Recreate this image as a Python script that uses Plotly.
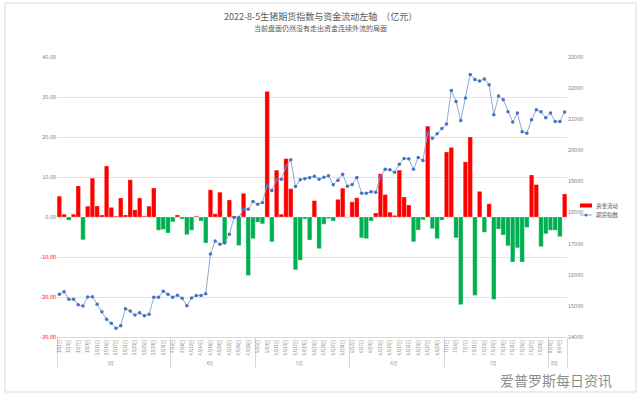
import plotly.graph_objects as go
from plotly.subplots import make_subplots

# ---------------- data ----------------
month_days = {
    "3月": [1, 2, 3, 4, 7, 8, 9, 10, 11, 14, 15, 16, 17, 18, 21, 22, 23, 24, 25, 28, 29, 30, 31],
    "4月": [1, 6, 7, 8, 11, 12, 13, 14, 15, 18, 19, 20, 21, 22, 25, 26, 27, 28, 29],
    "5月": [5, 6, 9, 10, 11, 12, 13, 16, 17, 18, 19, 20, 23, 24, 25, 26, 27, 30, 31],
    "6月": [1, 2, 6, 7, 8, 9, 10, 13, 14, 15, 16, 17, 20, 21, 22, 23, 24, 27, 28, 29, 30],
    "7月": [1, 4, 5, 6, 7, 8, 11, 12, 13, 14, 15, 18, 19, 20, 21, 22, 25, 26, 27, 28, 29],
    "8月": [1, 2, 3, 4, 5],
}

fund_flow = [
    # March
    5.2, 0.7, -0.8, 0.7, 7.75, -5.7, 2.7, 9.7, 2.75, 0.5, 12.75, 2.4, 0.2, 4.75, 0.5, 9.3, 1.8, 4.75, 0.2, 2.7, 7.25, -3.3, -3.1,
    # April
    -4.0, -1.2, 0.5, -0.5, -4.4, -3.3, 0.2, -1.0, -6.5, 6.8, 0.8, 6.2, -6.5, 4.25, 0.25, -7.1, 5.9, -14.6, -5.4,
    # May
    -1.25, -1.7, 31.4, -6.2, 11.7, 0.7, 14.6, 7.1, -13.2, -10.8, -0.5, -5.75, 4.1, -7.9, -1.8, -0.4, -1.0, 4.4, 7.2,
    # June
    -0.1, 3.8, 4.8, -5.2, -5.4, -1.0, 1.0, 10.8, 5.6, 1.2, 0.4, 11.7, 5.0, 3.0, -6.2, -3.25, -0.7, 22.7, -2.9, -5.4, -0.75,
    # July
    16.25, 17.4, -5.2, -21.9, 13.8, 20.0, -19.6, 6.4, -3.8, 3.3, -20.6, -3.0, -4.5, -7.2, -11.25, -7.7, -11.25, -2.6, 10.5, 8.1, -7.4,
    # August
    -4.2, -3.3, -3.3, -4.9, 5.75,
]

futures_index = [
    # March
    15373, 15457, 15212, 15212, 15039, 14997, 15286, 15297, 15051, 14814, 14568, 14440, 14279, 14364, 14910, 14836, 14707, 14782, 14685, 14729, 15276, 15276, 15469,
    # April
    15373, 15276, 15340, 15244, 15007, 15255, 15330, 15330, 15393, 16670, 17089, 16982, 17024, 17304, 17838, 17838, 18118, 18108, 18353,
    # May
    18269, 18322, 18880, 18708, 19052, 19073, 19481, 19695, 18837, 19052, 19084, 19116, 19170, 19073, 19137, 19180, 18891, 19041, 19234,
    # June
    18848, 18901, 19127, 18622, 18622, 18665, 18655, 19159, 19395, 19373, 19298, 19556, 19738, 19727, 19395, 19770, 19674, 20564, 20392, 20532, 20703,
    # July
    20843, 21926, 21572, 20961, 21680, 22441, 22280, 22227, 22291, 22109, 21143, 21744, 21626, 21240, 20907, 21197, 20596, 20553, 20982, 21304, 21240,
    # August
    21047, 21197, 20929, 20929, 21229,
]

left_ticks = [40, 30, 20, 10, 0, -10, -20, -30]
right_ticks = [23000, 22000, 21000, 20000, 19000, 18000, 17000, 16000, 15000, 14000]

title_text = "2022-8-5生猪期货指数与资金流动左轴  （亿元）"
subtitle_text = "当前盘面仍然没有走出资金连续外流的局面"
bar_name = "资金流动"
line_name = "期货指数"
watermark = "爱普罗斯每日资讯"

# ---------------- build ----------------
months = []
days = []
for m, dl in month_days.items():
    mm = m.replace("月", "")
    for d in dl:
        months.append(m)
        days.append(f"{mm}月{d}日")

RED = "#FF0000"
GREEN = "#00B050"
LINE_C = "#8EA9DB"
MARK_C = "#4472C4"
bar_colors = [RED if v >= 0 else GREEN for v in fund_flow]

FONT = "Noto Sans CJK SC, Noto Sans, sans-serif"

W, H = 641, 396
ML, MR, MT, MB = 57, 74, 57, 59
plot_h = H - MT - MB
plot_w = W - ML - MR


def py(ypix):
    return (H - MB - ypix) / plot_h


def px(xpix):
    return (xpix - ML) / plot_w


fig = make_subplots(specs=[[{"secondary_y": True}]])

fig.add_trace(
    go.Bar(
        x=[months, days], y=fund_flow, name=bar_name,
        marker=dict(color=bar_colors, line=dict(color="rgba(255,255,255,0.6)", width=0.4)),
        showlegend=False,
    ),
    secondary_y=False,
)
fig.add_trace(
    go.Scatter(
        x=[months, days], y=futures_index, name=line_name, mode="lines+markers",
        line=dict(color=LINE_C, width=1),
        marker=dict(color=MARK_C, size=3.5),
        showlegend=False,
    ),
    secondary_y=True,
)

left_text = []
for t in left_ticks:
    s = f"{t:.2f}"
    if t < 0:
        s = f'<span style="color:#FF0000">{s}</span>'
    left_text.append(s)

fig.update_yaxes(
    range=[-30, 40], tickvals=left_ticks, ticktext=left_text,
    showgrid=True, gridcolor="#E4E4E4", gridwidth=1, zeroline=False,
    tickfont=dict(size=5.5, color="#7F7F7F", family=FONT),
    ticks="", showline=False, automargin=False, secondary_y=False,
)
fig.update_yaxes(
    range=[14000, 23000], tickvals=right_ticks, ticktext=[str(t) for t in right_ticks],
    showgrid=False, zeroline=False,
    tickfont=dict(size=5.5, color="#7F7F7F", family=FONT),
    ticks="", showline=False, automargin=False, secondary_y=True,
)
fig.update_xaxes(
    type="multicategory", tickangle=-90, domain=[0, 1],
    range=[-0.5, len(days) - 0.5], autorange=False,
    tickfont=dict(size=4.3, color="#7F7F7F", family=FONT),
    showline=True, linecolor="#D9D9D9", linewidth=1,
    showgrid=False, ticks="", automargin=False,
    dividercolor="#D9D9D9", dividerwidth=1, showdividers=True,
)

# manual compact legend (as in the reference)
leg_x0, leg_x1 = 580, 592
fig.add_shape(type="rect", xref="paper", yref="paper",
              x0=px(leg_x0), x1=px(leg_x1), y0=py(207.5), y1=py(203.5),
              fillcolor=RED, line=dict(width=0))
fig.add_shape(type="line", xref="paper", yref="paper",
              x0=px(leg_x0), x1=px(leg_x1), y0=py(215), y1=py(215),
              line=dict(color=LINE_C, width=1))
fig.add_shape(type="circle", xref="paper", yref="paper",
              x0=px(584.5), x1=px(587.5), y0=py(216.5), y1=py(213.5),
              fillcolor=MARK_C, line=dict(width=0))

fig.update_layout(
    width=W, height=H,
    margin=dict(l=ML, r=MR, t=MT, b=MB, autoexpand=False),
    paper_bgcolor="white", plot_bgcolor="white",
    bargap=0.06, barmode="overlay",
    font=dict(family=FONT, color="#595959"),
    showlegend=False,
    annotations=[
        dict(text=title_text, x=px(320), y=py(16), xref="paper", yref="paper", showarrow=False,
             xanchor="center", yanchor="middle",
             font=dict(size=9, color="#595959", family=FONT)),
        dict(text=subtitle_text, x=px(320), y=py(28), xref="paper", yref="paper", showarrow=False,
             xanchor="center", yanchor="middle",
             font=dict(size=7, color="#595959", family=FONT)),
        dict(text=bar_name, x=px(594), y=py(205.5), xref="paper", yref="paper", showarrow=False,
             xanchor="left", yanchor="middle",
             font=dict(size=5.5, color="#595959", family=FONT)),
        dict(text=line_name, x=px(594), y=py(215), xref="paper", yref="paper", showarrow=False,
             xanchor="left", yanchor="middle",
             font=dict(size=5.5, color="#595959", family=FONT)),
        dict(text=watermark, x=px(498), y=py(380), xref="paper", yref="paper", showarrow=False,
             xanchor="left", yanchor="middle",
             font=dict(size=14, color="rgba(110,110,110,0.8)", family=FONT)),
    ],
)

fig.add_shape(type="rect", xref="paper", yref="paper",
              x0=px(5), x1=px(636), y0=py(392), y1=py(3),
              line=dict(color="#D9D9D9", width=1), layer="below")

fig.write_html(
    "out.html",
    config={"displayModeBar": False},
    post_script="document.body.style.margin='0px';document.body.style.overflow='hidden';",
)
